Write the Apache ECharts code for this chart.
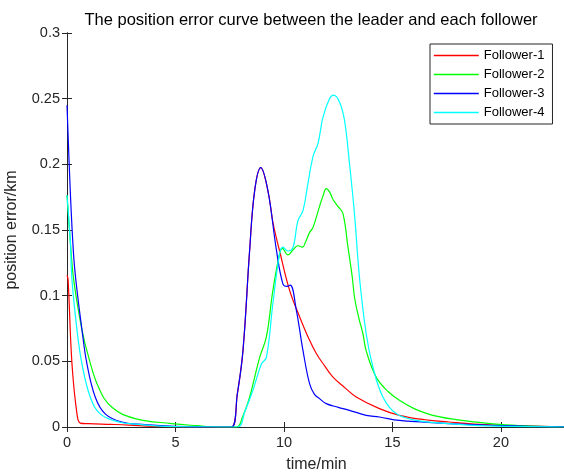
<!DOCTYPE html>
<html>
<head>
<meta charset="utf-8">
<script src="https://cdn.jsdelivr.net/npm/echarts@6/dist/echarts.min.js"></script>
<style>html,body{margin:0;padding:0;background:#fff}#c{width:564px;height:472px}</style>
</head>
<body>
<div id="c"></div>
<script>
// Tick values
const xTicks = [0, 5, 10, 15, 20];
const yTicks = [0, 0.05, 0.1, 0.15, 0.2, 0.25, 0.3];
const seriesNames = ['Follower-1', 'Follower-2', 'Follower-3', 'Follower-4'];

// Follower-1 (red)
const f1T = [0, 0.05, 0.23, 0.46, 0.61, 1.0, 2.0, 2.84, 4.0, 7.0, 7.58, 7.85, 8.11, 8.42, 8.65, 8.93, 9.26, 9.5, 9.8, 10.26, 10.72, 11.1, 11.49, 11.9, 12.26, 12.8, 13.33, 14.4, 15.32, 16.5, 17.6, 19.0, 20.5, 23];
const f1V = [0.1155, 0.112, 0.048, 0.010, 0.003, 0.0025, 0.002, 0.0015, 0.0005, 0, 0, 0.025, 0.058, 0.135, 0.180, 0.1975, 0.180, 0.155, 0.134, 0.104, 0.084, 0.069, 0.056, 0.046, 0.038, 0.030, 0.0229, 0.014, 0.0089, 0.0055, 0.0038, 0.002, 0.001, 0];

// Follower-2 (green)
const f2T = [0, 0.15, 0.31, 0.69, 1.0, 1.46, 2.07, 3.14, 4.83, 6.0, 7.0, 7.81, 8.1, 8.42, 8.88, 9.19, 9.49, 9.8, 9.93, 10.18, 10.42, 10.64, 10.85, 11.0, 11.18, 11.34, 11.64, 11.8, 11.95, 12.1, 12.27, 12.49, 12.72, 12.95, 13.15, 13.25, 13.45, 13.64, 13.79, 14.25, 14.8, 15.32, 16.0, 16.86, 18.39, 19.93, 21.5, 23];
const f2V = [0.1765, 0.142, 0.112, 0.074, 0.053, 0.030, 0.015, 0.0064, 0.0026, 0.001, 0, 0, 0.008, 0.023, 0.053, 0.0686, 0.104, 0.132, 0.136, 0.131, 0.135, 0.138, 0.137, 0.141, 0.148, 0.152, 0.168, 0.176, 0.1815, 0.179, 0.173, 0.168, 0.1625, 0.137, 0.114, 0.099, 0.083, 0.071, 0.058, 0.038, 0.027, 0.0203, 0.014, 0.0089, 0.0046, 0.002, 0.0007, 0];

// Follower-3 (blue)
const f3T = [0, 0.15, 0.3, 0.42, 0.69, 0.92, 1.3, 1.76, 2.53, 3.6, 5.0, 7.0, 7.58, 7.85, 8.11, 8.42, 8.65, 8.93, 9.26, 9.65, 9.95, 10.14, 10.29, 10.57, 10.88, 11.18, 11.4, 11.64, 11.95, 12.5, 13.02, 13.79, 14.4, 15.32, 16.5, 17.6, 20.0, 23];
const f3V = [0.245, 0.180, 0.132, 0.110, 0.074, 0.048, 0.0229, 0.010, 0.0038, 0.0018, 0.0005, 0, 0, 0.025, 0.058, 0.135, 0.180, 0.1975, 0.180, 0.135, 0.109, 0.107, 0.108, 0.089, 0.058, 0.033, 0.025, 0.0216, 0.0178, 0.015, 0.0127, 0.0089, 0.0076, 0.005, 0.0037, 0.0026, 0.001, 0];

// Follower-4 (cyan)
const f4T = [0, 0.15, 0.23, 0.46, 0.69, 1.07, 1.53, 2.38, 3.3, 4.5, 7.0, 7.88, 8.2, 8.57, 8.96, 9.19, 9.49, 9.8, 9.95, 10.18, 10.42, 10.64, 10.88, 11.1, 11.34, 11.57, 11.8, 12.1, 12.29, 12.56, 12.79, 13.02, 13.25, 13.48, 13.79, 14.1, 14.56, 15.17, 16.09, 17.6, 19.0, 23];
const f4V = [0.1765, 0.142, 0.112, 0.074, 0.048, 0.0229, 0.010, 0.0038, 0.002, 0.0005, 0, 0, 0.012, 0.028, 0.048, 0.053, 0.094, 0.132, 0.137, 0.134, 0.137, 0.157, 0.165, 0.185, 0.206, 0.216, 0.236, 0.250, 0.2527, 0.2475, 0.2336, 0.2006, 0.1625, 0.114, 0.071, 0.0457, 0.0229, 0.0102, 0.0051, 0.0026, 0.001, 0];

const colors = ['#ff0000', '#00ff00', '#0000ff', '#00ffff'];
const allT = [f1T, f2T, f3T, f4T];
const allV = [f1V, f2V, f3V, f4V];

const axisColor = '#262626';
const font = 'Liberation Sans, Arial, Helvetica, sans-serif';

const chart = echarts.init(document.getElementById('c'), null, {renderer: 'canvas'});
chart.setOption({
  animation: false,
  backgroundColor: '#fff',
  title: {
    text: 'The position error curve between the leader and each follower',
    left: 306, top: 7, textAlign: 'center',
    textStyle: {fontFamily: font, fontSize: 16.5, fontWeight: 'normal', color: '#000'}
  },
  legend: {
    data: seriesNames,
    orient: 'vertical',
    left: 430, top: 44,
    backgroundColor: '#fff',
    borderColor: axisColor, borderWidth: 1,
    padding: [5, 8, 5, 3],
    itemGap: 6,
    itemWidth: 45, itemHeight: 13,
    itemStyle: {opacity: 0},
    lineStyle: {width: 1.6},
    textStyle: {fontFamily: font, fontSize: 13, color: '#000'}
  },
  grid: {left: 67, top: 33, right: -2, bottom: 45, containLabel: false, outerBoundsMode: 'none'},
  xAxis: [{
    type: 'value', min: 0, max: 23, interval: 5,
    axisLine: {lineStyle: {color: axisColor, width: 1}},
    axisTick: {inside: true, length: 5, lineStyle: {color: axisColor}},
    axisLabel: {fontFamily: font, fontSize: 14.5, color: axisColor, margin: 8,
      formatter: v => xTicks.includes(v) ? String(v) : ''},
    splitLine: {show: false},
    name: 'time/min', nameLocation: 'middle', nameGap: 30,
    nameTextStyle: {fontFamily: font, fontSize: 16, color: axisColor}
  }, {
    type: 'value', min: 0, max: 23, interval: 5, position: 'top',
    axisLine: {lineStyle: {color: axisColor, width: 1}},
    axisTick: {inside: true, length: 5, lineStyle: {color: axisColor}},
    axisLabel: {show: false}, splitLine: {show: false}
  }],
  yAxis: [{
    type: 'value', min: 0, max: 0.3, interval: 0.05,
    axisLine: {show: true, lineStyle: {color: axisColor, width: 1}},
    axisTick: {show: true, inside: true, length: 5, lineStyle: {color: axisColor}},
    axisLabel: {fontFamily: font, fontSize: 14.5, color: axisColor, margin: 7,
      formatter: v => String(+v.toFixed(2))},
    splitLine: {show: false},
    name: 'position error/km', nameLocation: 'middle', nameGap: 47,
    nameTextStyle: {fontFamily: font, fontSize: 16, color: axisColor}
  }, {
    type: 'value', min: 0, max: 0.3, interval: 0.05, position: 'right',
    axisLine: {show: true, lineStyle: {color: axisColor, width: 1}},
    axisTick: {show: true, inside: true, length: 5, lineStyle: {color: axisColor}},
    axisLabel: {show: false}, splitLine: {show: false}
  }],
  series: seriesNames.map((name, i) => ({
    name: name,
    type: 'line',
    symbol: 'none',
    smooth: 0.4,
    color: colors[i],
    itemStyle: {color: colors[i]},
    lineStyle: {color: colors[i], width: 1.2},
    data: allT[i].map((t, k) => [t, allV[i][k]])
  }))
});
</script>
</body>
</html>
